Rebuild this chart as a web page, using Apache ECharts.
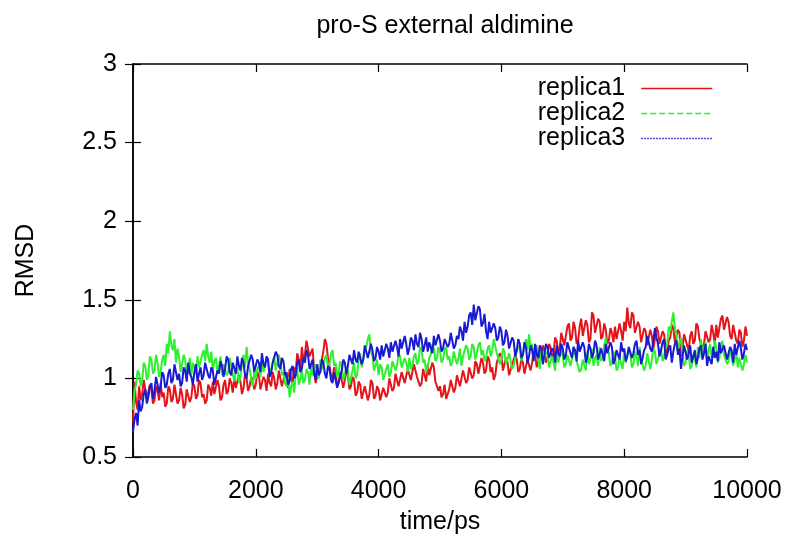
<!DOCTYPE html>
<html>
<head>
<meta charset="utf-8">
<script src="https://cdn.jsdelivr.net/npm/echarts@6/dist/echarts.min.js"></script>
<style>
  html, body { margin: 0; padding: 0; background: #fff; }
  #chart { width: 791px; height: 540px; }
</style>
</head>
<body>
<div id="chart"></div>
<script>
// RMSD sampled every 25 ps, 0..10000
const dt = 25;

const replica1 = [
  0.72, 0.98, 0.85, 0.80, 0.95, 0.86, 0.90, 0.99, 0.98, 0.87, 0.88, 0.96, 0.93, 0.84, 0.86, 0.95, 0.92, 0.86, 0.97, 0.88,
  0.91, 0.82, 0.84, 0.95, 0.93, 0.85, 0.87, 0.96, 0.95, 0.84, 0.86, 0.94, 0.90, 0.81, 0.83, 0.93, 0.92, 0.85, 0.88, 0.97,
  0.95, 0.87, 0.89, 0.99, 0.97, 0.88, 0.90, 0.84, 0.86, 0.96, 0.94, 0.89, 0.98, 0.90, 0.91, 0.99, 0.95, 0.86, 0.88, 0.96,
  0.99, 0.90, 0.92, 1.00, 0.97, 0.91, 1.01, 0.94, 0.93, 1.02, 0.98, 0.90, 0.94, 1.03, 1.00, 0.92, 0.95, 1.01, 0.99, 0.93,
  0.96, 1.04, 1.02, 0.93, 0.94, 1.01, 0.99, 0.92, 1.03, 0.97, 0.95, 1.04, 1.00, 0.93, 0.97, 1.05, 1.04, 0.95, 0.96, 1.03,
  1.00, 0.94, 1.06, 1.00, 0.97, 1.07, 1.04, 1.16, 1.12, 1.05, 1.20, 1.12, 1.15, 1.24, 1.23, 1.14, 1.13, 1.19, 1.05, 0.97,
  0.98, 1.06, 1.04, 1.12, 1.17, 1.25, 1.22, 1.13, 1.08, 1.02, 1.00, 1.07, 1.05, 0.95, 0.97, 1.04, 1.03, 0.94, 0.99, 1.05,
  1.02, 0.93, 0.95, 1.01, 0.99, 0.89, 0.91, 0.98, 0.96, 0.87, 0.88, 0.95, 0.94, 0.86, 0.90, 0.99, 0.97, 0.87, 0.89, 0.95,
  0.93, 0.86, 0.87, 0.94, 0.95, 0.88, 0.91, 1.00, 0.99, 0.92, 0.94, 1.03, 1.02, 0.95, 0.96, 1.04, 1.05, 0.97, 0.98, 1.06,
  1.06, 0.99, 1.00, 1.09, 1.08, 1.01, 1.02, 0.95, 0.97, 1.06, 1.05, 0.98, 1.09, 1.02, 1.01, 1.10, 1.07, 0.98, 0.99, 0.92,
  0.95, 0.88, 0.90, 0.96, 0.87, 0.90, 0.93, 0.99, 0.98, 0.91, 0.94, 1.02, 1.01, 0.95, 0.96, 1.05, 1.04, 0.97, 0.99, 1.07,
  1.06, 1.00, 1.02, 1.11, 1.09, 1.03, 1.04, 1.13, 1.10, 1.03, 1.05, 1.14, 1.12, 1.04, 1.07, 0.99, 1.02, 1.10, 1.09, 1.16,
  1.14, 1.05, 1.06, 1.13, 1.10, 1.02, 1.03, 1.09, 1.08, 1.15, 1.12, 1.04, 1.06, 1.13, 1.10, 1.03, 1.04, 1.12, 1.11, 1.05,
  1.10, 1.17, 1.15, 1.07, 1.08, 1.16, 1.13, 1.21, 1.18, 1.10, 1.12, 1.22, 1.20, 1.13, 1.16, 1.26, 1.24, 1.17, 1.19, 1.29,
  1.30, 1.21, 1.22, 1.33, 1.35, 1.24, 1.26, 1.36, 1.32, 1.22, 1.24, 1.33, 1.38, 1.27, 1.28, 1.37, 1.34, 1.23, 1.25, 1.42,
  1.40, 1.29, 1.30, 1.38, 1.36, 1.25, 1.27, 1.35, 1.31, 1.22, 1.24, 1.32, 1.29, 1.23, 1.33, 1.25, 1.26, 1.35, 1.30, 1.24,
  1.36, 1.30, 1.45, 1.35, 1.32, 1.42, 1.40, 1.29, 1.28, 1.36, 1.33, 1.23, 1.24, 1.32, 1.30, 1.21, 1.22, 1.31, 1.27, 1.19,
  1.25, 1.33, 1.30, 1.22, 1.21, 1.30, 1.28, 1.19, 1.16, 1.24, 1.26, 1.34, 1.32, 1.23, 1.24, 1.31, 1.29, 1.14, 1.20, 1.28,
  1.27, 1.21, 1.18, 1.27, 1.30, 1.22, 1.24, 1.35, 1.33, 1.25, 1.26, 1.19, 1.22, 1.30, 1.31, 1.23, 1.25, 1.34, 1.29, 1.22,
  1.34, 1.26, 1.27, 1.38, 1.40, 1.31, 1.30, 1.39, 1.36, 1.27, 1.25, 1.34, 1.33, 1.24, 1.22, 1.31, 1.29, 1.20, 1.24, 1.33,
  1.27
];

const replica2 = [
  0.80, 0.92, 0.96, 1.05, 1.03, 0.95, 0.99, 1.10, 1.08, 0.99, 1.02, 1.14, 1.12, 1.03, 1.05, 1.15, 1.10, 1.01, 1.04, 1.12,
  1.15, 1.08, 1.22, 1.16, 1.30, 1.21, 1.18, 1.25, 1.10, 1.19, 1.14, 1.04, 1.05, 1.15, 1.12, 1.03, 1.07, 1.13, 1.02, 1.10,
  1.09, 1.03, 1.14, 1.07, 1.06, 1.15, 1.18, 1.11, 1.22, 1.14, 1.10, 1.17, 1.05, 1.11, 1.13, 1.04, 1.08, 1.14, 1.02, 1.09,
  1.10, 1.02, 1.04, 1.13, 1.12, 1.03, 0.98, 1.05, 1.07, 0.97, 1.01, 1.09, 1.15, 1.07, 1.20, 1.10, 1.06, 0.99, 0.95, 1.04,
  1.00, 1.06, 1.08, 1.01, 1.12, 1.04, 1.05, 1.13, 1.10, 1.02, 1.03, 1.10, 1.14, 1.05, 1.06, 1.15, 1.11, 1.02, 1.04, 0.97,
  0.95, 1.01, 0.88, 0.95, 0.98, 0.91, 1.02, 1.07, 0.96, 0.99, 1.05, 0.97, 0.99, 1.06, 1.04, 0.96, 1.08, 1.02, 1.01, 1.09,
  1.06, 1.00, 1.12, 1.06, 1.05, 1.13, 1.15, 1.07, 1.09, 1.16, 1.18, 1.08, 1.10, 1.01, 1.04, 1.11, 1.08, 0.99, 1.00, 1.07,
  1.05, 0.96, 0.97, 1.05, 1.10, 1.00, 1.02, 1.12, 1.16, 1.07, 1.08, 1.17, 1.20, 1.25, 1.28, 1.17, 1.14, 1.05, 1.06, 1.12,
  1.02, 1.09, 1.07, 0.99, 1.00, 1.06, 1.09, 1.01, 1.04, 1.11, 1.12, 1.05, 1.08, 1.16, 1.14, 1.07, 1.06, 1.13, 1.10, 1.04,
  1.13, 1.06, 1.08, 1.14, 1.16, 1.09, 1.11, 1.20, 1.18, 1.10, 1.12, 1.04, 1.07, 1.13, 1.15, 1.22, 1.19, 1.11, 1.13, 1.20,
  1.17, 1.10, 1.12, 1.18, 1.20, 1.12, 1.14, 1.08, 1.10, 1.17, 1.16, 1.09, 1.13, 1.19, 1.08, 1.14, 1.15, 1.21, 1.19, 1.12,
  1.14, 1.22, 1.20, 1.12, 1.16, 1.21, 1.23, 1.15, 1.18, 1.11, 1.13, 1.19, 1.21, 1.14, 1.17, 1.25, 1.24, 1.16, 1.15, 1.09,
  1.12, 1.19, 1.17, 1.09, 1.10, 1.16, 1.15, 1.06, 1.08, 1.13, 1.14, 1.21, 1.19, 1.11, 1.12, 1.20, 1.25, 1.18, 1.28, 1.20,
  1.22, 1.14, 1.16, 1.21, 1.12, 1.06, 1.18, 1.11, 1.10, 1.17, 1.15, 1.07, 1.08, 1.14, 1.13, 1.05, 1.17, 1.10, 1.11, 1.18,
  1.14, 1.07, 1.09, 1.15, 1.16, 1.08, 1.12, 1.20, 1.19, 1.11, 1.10, 1.04, 1.06, 1.12, 1.13, 1.05, 1.17, 1.09, 1.12, 1.19,
  1.08, 1.13, 1.15, 1.08, 1.20, 1.11, 1.13, 1.21, 1.26, 1.18, 1.16, 1.08, 1.10, 1.17, 1.14, 1.05, 1.07, 1.13, 1.12, 1.06,
  1.18, 1.10, 1.11, 1.19, 1.16, 1.07, 1.09, 1.17, 1.14, 1.08, 1.20, 1.12, 1.13, 1.05, 1.08, 1.16, 1.15, 1.06, 1.12, 1.19,
  1.17, 1.09, 1.10, 1.16, 1.19, 1.11, 1.14, 1.20, 1.22, 1.33, 1.30, 1.36, 1.42, 1.32, 1.28, 1.19, 1.20, 1.26, 1.15, 1.08,
  1.10, 1.18, 1.16, 1.06, 1.08, 1.15, 1.13, 1.07, 1.20, 1.13, 1.25, 1.16, 1.17, 1.23, 1.12, 1.18, 1.22, 1.13, 1.15, 1.24,
  1.19, 1.10, 1.13, 1.20, 1.24, 1.15, 1.16, 1.09, 1.11, 1.19, 1.18, 1.08, 1.12, 1.17, 1.07, 1.13, 1.14, 1.05, 1.09, 1.15,
  1.10
];

const replica3 = [
  0.66, 0.74, 0.78, 0.70, 0.86, 0.79, 0.82, 0.90, 0.93, 0.84, 0.88, 0.95, 0.97, 0.87, 0.92, 1.01, 1.00, 0.91, 0.95, 1.04,
  1.02, 0.94, 0.96, 1.03, 1.06, 0.97, 0.99, 1.09, 1.08, 0.99, 1.03, 0.95, 0.97, 1.07, 1.05, 0.98, 1.10, 1.03, 1.01, 0.96,
  1.04, 1.09, 0.98, 1.03, 1.07, 0.99, 1.02, 1.10, 1.09, 1.02, 1.00, 1.07, 1.05, 0.96, 0.97, 1.05, 1.03, 1.11, 1.08, 1.01,
  1.06, 1.14, 1.12, 1.04, 1.02, 1.10, 1.09, 1.03, 1.14, 1.08, 1.05, 1.13, 1.10, 1.02, 1.00, 1.08, 1.07, 1.15, 1.12, 1.04,
  1.05, 1.12, 1.10, 1.04, 1.16, 1.09, 1.07, 1.14, 1.12, 1.01, 1.03, 1.10, 1.09, 1.17, 1.15, 1.08, 1.06, 1.13, 1.11, 1.02,
  1.04, 0.96, 0.98, 1.06, 1.08, 1.00, 1.02, 1.10, 1.12, 1.04, 1.06, 1.13, 1.10, 1.18, 1.15, 1.06, 1.07, 1.12, 1.03, 0.99,
  1.09, 1.02, 1.04, 1.12, 1.10, 1.03, 1.00, 1.08, 1.06, 0.99, 0.97, 1.04, 1.03, 0.94, 0.95, 1.01, 1.05, 1.12, 1.10, 1.03,
  1.08, 1.15, 1.14, 1.09, 1.18, 1.12, 1.10, 1.17, 1.16, 1.09, 1.12, 1.21, 1.20, 1.13, 1.14, 1.22, 1.18, 1.11, 1.13, 1.20,
  1.17, 1.12, 1.21, 1.14, 1.15, 1.22, 1.19, 1.13, 1.23, 1.17, 1.16, 1.24, 1.20, 1.14, 1.25, 1.19, 1.18, 1.27, 1.22, 1.15,
  1.19, 1.26, 1.24, 1.18, 1.28, 1.22, 1.20, 1.29, 1.25, 1.17, 1.21, 1.26, 1.17, 1.23, 1.23, 1.16, 1.27, 1.21, 1.20, 1.28,
  1.24, 1.17, 1.19, 1.25, 1.26, 1.20, 1.22, 1.29, 1.28, 1.19, 1.21, 1.27, 1.25, 1.33, 1.30, 1.24, 1.36, 1.29, 1.33, 1.40,
  1.42, 1.34, 1.47, 1.37, 1.38, 1.46, 1.44, 1.33, 1.35, 1.41, 1.30, 1.25, 1.36, 1.29, 1.28, 1.35, 1.32, 1.24, 1.26, 1.33,
  1.30, 1.21, 1.23, 1.31, 1.27, 1.19, 1.20, 1.26, 1.24, 1.14, 1.18, 1.25, 1.22, 1.13, 1.15, 1.23, 1.20, 1.10, 1.14, 1.21,
  1.18, 1.11, 1.22, 1.15, 1.13, 1.21, 1.19, 1.09, 1.15, 1.22, 1.20, 1.13, 1.12, 1.19, 1.17, 1.10, 1.21, 1.16, 1.14, 1.22,
  1.19, 1.12, 1.15, 1.23, 1.22, 1.16, 1.13, 1.20, 1.18, 1.11, 1.24, 1.17, 1.16, 1.23, 1.20, 1.10, 1.14, 1.22, 1.19, 1.13,
  1.16, 1.24, 1.21, 1.12, 1.13, 1.19, 1.18, 1.11, 1.22, 1.16, 1.15, 1.23, 1.20, 1.09, 1.12, 1.18, 1.17, 1.12, 1.23, 1.17,
  1.19, 1.11, 1.14, 1.20, 1.21, 1.13, 1.16, 1.22, 1.24, 1.15, 1.18, 1.09, 1.13, 1.18, 1.20, 1.27, 1.26, 1.19, 1.17, 1.24,
  1.32, 1.26, 1.22, 1.14, 1.18, 1.23, 1.25, 1.12, 1.15, 1.19, 1.21, 1.10, 1.17, 1.22, 1.24, 1.15, 1.19, 1.06, 1.14, 1.21,
  1.20, 1.12, 1.16, 1.21, 1.10, 1.14, 1.18, 1.09, 1.13, 1.19, 1.21, 1.12, 1.16, 1.22, 1.08, 1.14, 1.15, 1.09, 1.20, 1.13,
  1.17, 1.11, 1.23, 1.16, 1.15, 1.21, 1.20, 1.12, 1.13, 1.20, 1.18, 1.10, 1.22, 1.15, 1.15, 1.24, 1.19, 1.12, 1.16, 1.22,
  1.18
];

const names = ['replica1', 'replica2', 'replica3'];
const colors = ['#e3141a', '#2ef02e', '#1a1ad2'];
const legendLine = ['solid', 'dashed', 'dotted'];

function pairs(arr) {
  return arr.map((v, i) => [i * dt, v]);
}

const font = 'Liberation Sans, Arial, sans-serif';
const fs = 25;
const axisBase = {
  type: 'value',
  axisLine: { show: true, lineStyle: { color: '#000', width: 1.5 } },
  axisTick: { show: true, inside: true, length: 8, lineStyle: { color: '#000', width: 1.2 } },
  splitLine: { show: false }
};

const chart = echarts.init(document.getElementById('chart'));
chart.setOption({
  animation: false,
  backgroundColor: '#fff',
  title: {
    text: 'pro-S external aldimine',
    left: 440, top: 9, textAlign: 'center',
    textStyle: { fontFamily: font, fontSize: fs, fontWeight: 'normal', color: '#000' }
  },
  grid: { left: 133, right: 44, top: 64, bottom: 81 },
  legend: {
    orient: 'vertical',
    right: 73, top: 71,
    align: 'right',
    itemWidth: 71, itemHeight: 12, itemGap: 0,
    textStyle: { fontFamily: font, fontSize: fs, color: '#000', padding: [0, 11, 0, 0] },
    data: names.map((n, i) => ({
      name: n,
      itemStyle: { opacity: 0 },
      lineStyle: { type: legendLine[i], width: 1.5, opacity: 1 }
    }))
  },
  xAxis: [
    Object.assign({}, axisBase, {
      position: 'bottom', min: 0, max: 10000, interval: 2000,
      axisLabel: { fontFamily: font, fontSize: fs, color: '#000', margin: 22, formatter: v => String(v) },
      name: 'time/ps', nameLocation: 'middle', nameGap: 53,
      nameTextStyle: { fontFamily: font, fontSize: fs, color: '#000' }
    }),
    Object.assign({}, axisBase, {
      position: 'top', min: 0, max: 10000, interval: 2000,
      axisLabel: { show: false }
    })
  ],
  yAxis: [
    Object.assign({}, axisBase, {
      position: 'left', min: 0.5, max: 3, interval: 0.5,
      axisLabel: { fontFamily: font, fontSize: fs, color: '#000', margin: 16 },
      name: 'RMSD', nameLocation: 'middle', nameGap: 94, nameRotate: 90,
      nameTextStyle: { fontFamily: font, fontSize: fs, color: '#000' }
    }),
    Object.assign({}, axisBase, {
      position: 'right', min: 0.5, max: 3, interval: 0.5,
      axisLabel: { show: false }
    })
  ],
  series: [replica1, replica2, replica3].map((arr, i) => ({
    name: names[i],
    type: 'line',
    data: pairs(arr),
    symbol: 'none',
    color: colors[i],
    lineStyle: { color: colors[i], width: 2 }
  }))
});
</script>
</body>
</html>
